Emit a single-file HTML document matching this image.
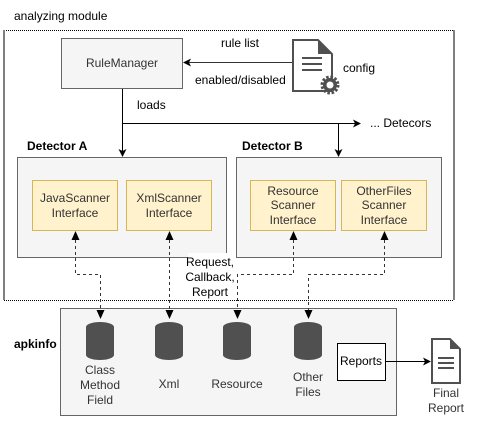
<!DOCTYPE html>
<html><head><meta charset="utf-8"><style>
html,body{margin:0;padding:0;background:#fff;}
svg text{font-family:"Liberation Sans",Arial,sans-serif;font-size:12px;fill:#000;}
</style></head><body>
<svg width="477" height="421" viewBox="0 0 477 421" xmlns="http://www.w3.org/2000/svg">
<defs>
<marker id="ar" markerWidth="8" markerHeight="8" refX="7" refY="4" orient="auto" markerUnits="userSpaceOnUse">
<path d="M0,0 L8,4 L0,8 L2,4 Z" fill="#000"/></marker>
</defs>
<text x="14" y="20" font-size="12">analyzing module</text>
<!-- outer box -->
<line x1="4" y1="30.5" x2="454" y2="30.5" stroke="#000" stroke-dasharray="1,1"/>
<line x1="4" y1="300.5" x2="454" y2="300.5" stroke="#000" stroke-dasharray="1,1"/>
<line x1="4" y1="30" x2="4" y2="300" stroke="#808080" stroke-width="2"/>
<line x1="454" y1="30" x2="454" y2="300" stroke="#808080" stroke-width="2"/>

<rect x="61.5" y="38.5" width="121" height="50" fill="#f5f5f5" stroke="#666"/>
<text x="122" y="67" text-anchor="middle" style="fill:#333">RuleManager</text>

<!-- config icon -->
<path d="M293,40 H318 L332,54 V91 H293 Z" fill="#fff" stroke="#505050" stroke-width="2"/>
<path d="M318,40 L332,54 H318 Z" fill="#505050"/>
<line x1="302" y1="58" x2="322" y2="58" stroke="#505050" stroke-width="2"/>
<line x1="302" y1="64" x2="322" y2="64" stroke="#505050" stroke-width="2"/>
<line x1="302" y1="70" x2="322" y2="70" stroke="#505050" stroke-width="2"/>
<circle cx="330" cy="85" r="7" fill="#505050"/>
<circle cx="330" cy="85" r="8" fill="none" stroke="#505050" stroke-width="3" stroke-dasharray="2.5,1.7"/>
<circle cx="330" cy="85" r="3.5" fill="#fff"/>
<text x="343" y="72">config</text>

<line x1="292" y1="62.5" x2="184" y2="62.5" stroke="#333" marker-end="url(#ar)"/>
<text x="221" y="47">rule list</text>
<text x="195" y="84">enabled/disabled</text>

<line x1="122.5" y1="89" x2="122.5" y2="156" stroke="#000" marker-end="url(#ar)"/>
<text x="137" y="109">loads</text>
<line x1="122" y1="123.5" x2="360" y2="123.5" stroke="#000" marker-end="url(#ar)"/>
<line x1="338.5" y1="123" x2="338.5" y2="156" stroke="#000" marker-end="url(#ar)"/>
<text x="370" y="127">... Detecors</text>

<text x="27" y="150" font-weight="bold">Detector A</text>
<text x="242" y="150" font-weight="bold">Detector B</text>
<rect x="17.5" y="157.5" width="209" height="100" fill="#f5f5f5" stroke="#666"/>
<rect x="236.5" y="157.5" width="205" height="100" fill="#f5f5f5" stroke="#666"/>

<rect x="32.5" y="180.5" width="85" height="50" fill="#fff2cc" stroke="#d6b656"/>
<rect x="126.5" y="180.5" width="85" height="50" fill="#fff2cc" stroke="#d6b656"/>
<rect x="250.5" y="180.5" width="85" height="50" fill="#fff2cc" stroke="#d6b656"/>
<rect x="341.5" y="180.5" width="85" height="50" fill="#fff2cc" stroke="#d6b656"/>
<text x="75" y="202" text-anchor="middle" style="fill:#333">JavaScanner</text>
<text x="75" y="217" text-anchor="middle" style="fill:#333">Interface</text>
<text x="169" y="202" text-anchor="middle" style="fill:#333">XmlScanner</text>
<text x="169" y="217" text-anchor="middle" style="fill:#333">Interface</text>
<text x="293" y="195" text-anchor="middle" style="fill:#333">Resource</text>
<text x="293" y="209" text-anchor="middle" style="fill:#333">Scanner</text>
<text x="293" y="224" text-anchor="middle" style="fill:#333">Interface</text>
<text x="384" y="195" text-anchor="middle" style="fill:#333">OtherFiles</text>
<text x="384" y="209" text-anchor="middle" style="fill:#333">Scanner</text>
<text x="384" y="224" text-anchor="middle" style="fill:#333">Interface</text>

<rect x="60.5" y="308.5" width="336" height="107" fill="#f5f5f5" stroke="#666"/>
<text x="14" y="348" font-weight="bold">apkinfo</text>

<!-- dashed connectors -->
<g fill="none" stroke="#333" stroke-dasharray="3,3">
<path d="M75.5,240 V274.5 H100.5 V312"/>
<path d="M169.5,240 V312"/>
<path d="M293.5,240 V274.5 H237.5 V312"/>
<path d="M384.5,240 V274.5 H308.5 V312"/>
</g>
<g fill="#000">
<path d="M75.5,231 L71.5,240 L79.5,240 Z"/>
<path d="M169.5,231 L165.5,240 L173.5,240 Z"/>
<path d="M293.5,231 L289.5,240 L297.5,240 Z"/>
<path d="M384.5,231 L380.5,240 L388.5,240 Z"/>
<path d="M100.5,319 L96.5,310 L104.5,310 Z"/>
<path d="M169.5,319 L165.5,310 L173.5,310 Z"/>
<path d="M237.5,319 L233.5,310 L241.5,310 Z"/>
<path d="M308.5,319 L304.5,310 L312.5,310 Z"/>
</g>
<rect x="188" y="253" width="44" height="46" fill="#fff"/>
<text x="210" y="266" text-anchor="middle">Request,</text>
<text x="210" y="281" text-anchor="middle">Callback,</text>
<text x="210" y="296" text-anchor="middle">Report</text>

<g fill="#505050">
<path d="M86,327 a14,5 0 0 1 28,0 V355 a14,5 0 0 1 -28,0 Z"/>
<path d="M155,327 a14,5 0 0 1 28,0 V355 a14,5 0 0 1 -28,0 Z"/>
<path d="M223,327 a14,5 0 0 1 28,0 V355 a14,5 0 0 1 -28,0 Z"/>
<path d="M294,327 a14,5 0 0 1 28,0 V355 a14,5 0 0 1 -28,0 Z"/>
</g>
<text x="100" y="374" text-anchor="middle" style="fill:#333">Class</text>
<text x="100" y="389" text-anchor="middle" style="fill:#333">Method</text>
<text x="100" y="404" text-anchor="middle" style="fill:#333">Field</text>
<text x="169" y="388" text-anchor="middle" style="fill:#333">Xml</text>
<text x="237" y="388" text-anchor="middle" style="fill:#333">Resource</text>
<text x="308" y="381" text-anchor="middle" style="fill:#333">Other</text>
<text x="308" y="396" text-anchor="middle" style="fill:#333">Files</text>

<rect x="337.5" y="343.5" width="48" height="37" fill="#fff" stroke="#000"/>
<text x="361" y="365" text-anchor="middle">Reports</text>
<line x1="386" y1="361.5" x2="430" y2="361.5" stroke="#000" marker-end="url(#ar)"/>

<path d="M432,339 H450 L460,349 V383 H432 Z" fill="#fff" stroke="#505050" stroke-width="2"/>
<path d="M450,339 L460,349 H450 Z" fill="#505050"/>
<line x1="438" y1="358" x2="454" y2="358" stroke="#505050" stroke-width="2"/>
<line x1="438" y1="363" x2="454" y2="363" stroke="#505050" stroke-width="2"/>
<line x1="438" y1="368" x2="454" y2="368" stroke="#505050" stroke-width="2"/>
<text x="446" y="397" text-anchor="middle" style="fill:#333">Final</text>
<text x="446" y="412" text-anchor="middle" style="fill:#333">Report</text>
</svg>
</body></html>
